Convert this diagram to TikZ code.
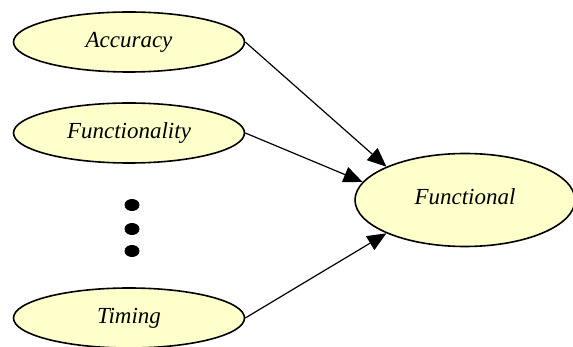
\documentclass[tikz,border=0pt]{standalone}
\usepackage{fontspec}
\setmainfont{Liberation Serif}
\usetikzlibrary{shapes.geometric,arrows.meta}
\definecolor{nodefill}{HTML}{FFFFCC}
\begin{document}
\begin{tikzpicture}[x=1pt, y=-1pt,
                    factor/.style={ellipse, draw, line width=1.6pt, fill=nodefill,
                                   inner sep=0pt, minimum width=231pt, minimum height=60pt,
                                   font=\fontsize{23}{27}\selectfont\itshape},
                    goal/.style={factor, minimum width=220pt, minimum height=93pt},
                    vdot/.style={ellipse, fill=black, inner sep=0pt,
                                 minimum width=15pt, minimum height=12pt},
                    link/.style={line width=1.2pt, -{Triangle[length=19pt, width=16pt]}}]
    \useasboundingbox (0,0) rectangle (573,347);
    \node[factor] (acc) at (129,42) {Accuracy};
    \node[factor] (fun) at (129,133) {Functionality};
    \node[factor] (tim) at (129,318) {Timing};
    \node[goal] (goal) at (465,200) {\raisebox{7pt}{Functional}};
    % vertical ellipsis between the factors
    \foreach \i/\y in {1/205, 2/229, 3/251}
      \node[vdot] (dot\i) at (132,\y) {};
    \draw[link] (acc.east) -- (goal.157);
    \draw[link] (fun.east) -- (goal.170.5);
    \draw[link] (tim.east) -- (goal.203);
\end{tikzpicture}
\end{document}
